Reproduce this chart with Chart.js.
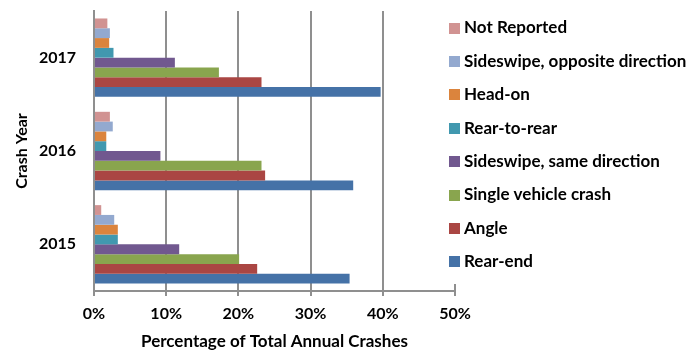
<!DOCTYPE html>
<html>
<head>
<meta charset="utf-8">
<script src="https://cdn.jsdelivr.net/npm/chart.js@4"></script>
<style>
  body { margin: 0; background: #fff; }
  canvas { display: block; }
</style>
</head>
<body>
<canvas id="crashChart" width="690" height="352"></canvas>
<script>
const years = ['2017', '2016', '2015'];
const seriesNames = [
    'Not Reported', 'Sideswipe, opposite direction', 'Head-on', 'Rear-to-rear',
    'Sideswipe, same direction', 'Single vehicle crash', 'Angle', 'Rear-end'
];
const notReported   = [1.85, 2.2, 1.0];
const sideswipeOpp  = [2.2, 2.6, 2.8];
const headOn        = [2.1, 1.7, 3.3];
const rearToRear    = [2.7, 1.7, 3.3];
const sideswipeSame = [11.2, 9.2, 11.8];
const singleVehicle = [17.3, 23.2, 20.1];
const angle         = [23.2, 23.7, 22.6];
const rearEnd       = [39.7, 35.9, 35.4];
const xTicks = [0, 10, 20, 30, 40, 50];

const seriesValues = [notReported, sideswipeOpp, headOn, rearToRear, sideswipeSame, singleVehicle, angle, rearEnd];
const colors = ['#D19392', '#93A9CF', '#DB843D', '#4198AF', '#71588F', '#89A54E', '#AA4643', '#4572A7'];

const FONT = 'Lato';
const gridColor = '#8f8f8f';

// legend drawn by hand so it can sit over the 50% line like the original
const sideLegend = {
    id: 'sideLegend',
    afterDraw(chart) {
        const ctx = chart.ctx;
        ctx.save();
        ctx.fillStyle = '#fff';
        ctx.fillRect(447, 0, 243, 284);
        ctx.font = 'bold 17px ' + FONT;
        ctx.textBaseline = 'middle';
        chart.data.datasets.forEach((ds, i) => {
            const y = 28 + i * 33.4;
            ctx.fillStyle = ds.backgroundColor;
            ctx.fillRect(449, Math.round(y - 5.5), 11, 11);
            ctx.fillStyle = '#000';
            ctx.fillText(ds.label, 464, y);
        });
        ctx.restore();
    }
};

new Chart(document.getElementById('crashChart'), {
    type: 'bar',
    data: {
        labels: years,
        datasets: seriesNames.map((name, i) => ({
            label: name,
            data: seriesValues[i],
            backgroundColor: colors[i],
            borderWidth: 0,
            categoryPercentage: 0.84,
            barPercentage: 1
        }))
    },
    options: {
        indexAxis: 'y',
        responsive: false,
        animation: false,
        layout: { padding: { left: 0, right: 235, top: 11, bottom: 0 } },
        plugins: {
            legend: { display: false },
            tooltip: { enabled: false }
        },
        scales: {
            x: {
                min: 0,
                max: 50,
                afterBuildTicks: (scale) => { scale.ticks = xTicks.map(v => ({ value: v })); },
                afterFit: (scale) => { scale.height = 61; },
                grid: { color: gridColor, lineWidth: 2, tickLength: 5 },
                border: { color: gridColor, width: 2 },
                ticks: {
                    padding: 8,
                    color: '#000',
                    font: { family: FONT, size: 16, weight: 'bold' },
                    callback: (v) => v + '%'
                },
                title: {
                    display: true,
                    text: 'Percentage of Total Annual Crashes',
                    color: '#000',
                    padding: { top: 0, bottom: 0 },
                    font: { family: FONT, size: 17, weight: 'bold' }
                }
            },
            y: {
                afterFit: (scale) => {
                    scale.width = 94;
                    scale.paddingTop = 0;
                    scale.paddingBottom = 0;
                },
                grid: { display: false, drawTicks: false },
                border: { color: gridColor, width: 2 },
                ticks: {
                    padding: 18,
                    color: '#000',
                    font: { family: FONT, size: 16, weight: 'bold' }
                },
                title: {
                    display: true,
                    text: 'Crash Year',
                    color: '#000',
                    padding: { top: 12, bottom: 0 },
                    font: { family: FONT, size: 16, weight: 'bold' }
                }
            }
        }
    },
    plugins: [sideLegend]
});
</script>
</body>
</html>
